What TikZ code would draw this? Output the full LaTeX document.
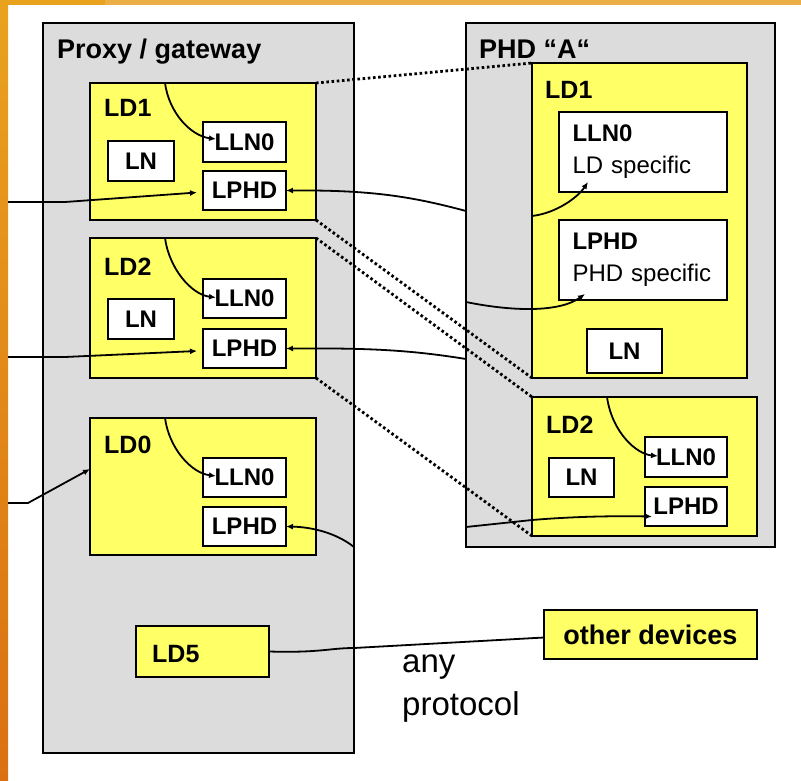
\documentclass[tikz,border=0pt]{standalone}
\usepackage{fontspec}
\setmainfont{Liberation Sans}
\usetikzlibrary{arrows.meta,calc}
\definecolor{gbox}{RGB}{220,220,220}
\definecolor{ybox}{RGB}{255,255,102}
\definecolor{orA}{RGB}{233,162,30}
\definecolor{orB}{RGB}{218,112,18}
\definecolor{orT}{RGB}{235,175,70}
\begin{document}
\begin{tikzpicture}[x=1pt,y=-1pt,
  graybox/.style={draw=black, fill=gbox, line width=1.8pt, inner sep=0pt, outer sep=0pt, anchor=north west},
  ldbox/.style={draw=black, fill=ybox, line width=1.8pt, inner sep=0pt, outer sep=0pt, anchor=north west},
  lnbox/.style={draw=black, fill=white, line width=1.8pt, inner sep=0pt, outer sep=0pt, anchor=north west, font=\fontsize{24}{32}\selectfont\bfseries},
  wire/.style={line width=1.8pt, draw=black},
  arr/.style={wire, -{Latex[length=7pt,width=6pt]}},
  dots/.style={line width=2.8pt, dash pattern=on 2.6pt off 2.6pt},
  title/.style={anchor=base west, inner sep=0pt, font=\fontsize{27}{32}\selectfont\bfseries},
  ldlabel/.style={anchor=base west, inner sep=0pt, font=\fontsize{25}{30}\selectfont\bfseries},
  plain/.style={anchor=base west, inner sep=0pt, font=\fontsize{33}{43}\selectfont},
]
\useasboundingbox (0,0) rectangle (801,781);
\fill[white] (0,0) rectangle (801,781);
% orange frame
\fill[orT] (0,0) rectangle (801,5);
\fill[orA] (0,0) rectangle (105,5);
\fill[top color=orA, bottom color=orB] (0,0) rectangle (8,781);

% containers
\node[graybox, minimum width=311pt, minimum height=730pt] (proxy) at (43,23) {};
\node[graybox, minimum width=309pt, minimum height=524pt] (phd) at (466,23) {};
\node[title] (proxyt) at (57,59) {Proxy / gateway};
\node[title] (phdt) at (479,59) {PHD “A“};

% proxy LD1
\node[ldbox, minimum width=226pt, minimum height=137pt] (pLD1) at (90,83) {};
\node[ldlabel] (pLD1t) at (104,117) {LD1};
\node[lnbox, minimum width=66pt, minimum height=40pt] (p1ln) at (108,141) {LN};
\node[lnbox, minimum width=83pt, minimum height=40pt] (p1lln0) at (203,122) {LLN0};
\node[lnbox, minimum width=83pt, minimum height=39pt] (p1lphd) at (203,171) {LPHD};

% proxy LD2
\node[ldbox, minimum width=226pt, minimum height=140pt] (pLD2) at (90,238) {};
\node[ldlabel] (pLD2t) at (104,275) {LD2};
\node[lnbox, minimum width=66pt, minimum height=40pt] (p2ln) at (108,299) {LN};
\node[lnbox, minimum width=83pt, minimum height=39pt] (p2lln0) at (203,279) {LLN0};
\node[lnbox, minimum width=83pt, minimum height=39pt] (p2lphd) at (203,329) {LPHD};

% proxy LD0
\node[ldbox, minimum width=226pt, minimum height=137pt] (pLD0) at (90,418) {};
\node[ldlabel] (pLD0t) at (104,453) {LD0};
\node[lnbox, minimum width=83pt, minimum height=39pt] (p0lln0) at (203,458) {LLN0};
\node[lnbox, minimum width=83pt, minimum height=39pt] (p0lphd) at (203,507) {LPHD};

% LD5
\node[ldbox, minimum width=133pt, minimum height=51pt] (LD5) at (136,626) {};
\node[ldlabel] (LD5t) at (152,662) {LD5};

% other devices
\node[ldbox, minimum width=213pt, minimum height=49pt, anchor=north west, font=\fontsize{27}{32}\selectfont\bfseries] (other) at (544,610) {other devices};

% PHD LD1
\node[ldbox, minimum width=215pt, minimum height=315pt] (aLD1) at (532,63) {};
\node[ldlabel] (aLD1t) at (545,99) {LD1};
\node[lnbox, minimum width=168pt, minimum height=80pt, text width=141pt, inner xsep=13.5pt, align=left] (a1lln0) at (559,112) {LLN0\\{\mdseries LD specific}};
\node[lnbox, minimum width=168pt, minimum height=80pt, text width=141pt, inner xsep=13.5pt, align=left] (a1lphd) at (559,220) {LPHD\\{\mdseries PHD specific}};
\node[lnbox, minimum width=75pt, minimum height=44pt] (a1ln) at (587,329) {LN};

% PHD LD2
\node[ldbox, minimum width=225pt, minimum height=139pt] (aLD2) at (532,397) {};
\node[ldlabel] (aLD2t) at (546,433) {LD2};
\node[lnbox, minimum width=65pt, minimum height=39pt] (a2ln) at (549,458) {LN};
\node[lnbox, minimum width=82pt, minimum height=40pt] (a2lln0) at (645,437) {LLN0};
\node[lnbox, minimum width=82pt, minimum height=39pt] (a2lphd) at (645,487) {LPHD};

% any protocol
\node[plain] (any) at (402,672) {any};
\node[plain] (proto) at (402,715) {protocol};

% free ends
\coordinate (inL1) at (8,202);
\coordinate (inL2) at (8,357);
\coordinate (inL0) at (8,503);
\coordinate (phdA) at (466,211);
\coordinate (phdB) at (466,302);
\coordinate (phdC) at (466,359);
\coordinate (phdD) at (466,527);
\coordinate (pxE) at (354,547);

% dotted correspondences
\draw[dots] (pLD1.north east) -- (aLD1.north west);
\draw[dots] (pLD1.south east) -- (aLD1.south west);
\draw[dots] (pLD2.north east) -- (aLD2.north west);
\draw[dots] (pLD2.south east) -- (aLD2.south west);

% proxy LD1 connectors
\draw[arr] ($(pLD1.north west)+(75,0)$) .. controls +(4,30) and +(-25,-3) .. ($(p1lln0.west)+(13,-3)$);
\draw[arr] (inL1) -- (65,202) -- ($(p1lphd.west)+(-6,2)$);
\draw[arr] (phdA) .. controls (410,196) and (370,190) .. (p1lphd.east);

% proxy LD2 connectors
\draw[arr] ($(pLD2.north west)+(75,0)$) .. controls +(4,30) and +(-25,-3) .. ($(p2lln0.west)+(13,-1)$);
\draw[arr] (inL2) -- (65,357) -- ($(p2lphd.west)+(-6,2.5)$);
\draw[arr] (phdC) .. controls (410,350) and (370,348) .. (p2lphd.east);

% proxy LD0 connectors
\draw[arr] ($(pLD0.north west)+(75,0)$) .. controls +(4,30) and +(-25,-3) .. ($(p0lln0.west)+(13,-1.5)$);
\draw[arr] (inL0) -- (28,503) -- ($(pLD0.west)+(0,-17.5)$);
\draw[arr] (pxE) .. controls (335,532) and (310,527) .. (p0lphd.east);

% PHD LD1 connectors
\draw[arr] ($(aLD1.north west)+(0,153)$) .. controls +(25,-3) and +(-10,15) .. ($(a1lln0.south west)+(29,-10)$);
\draw[arr] (phdB) .. controls (515,312) and (560,312) .. ($(a1lphd.south west)+(26,-6)$);

% PHD LD2 connectors
\draw[arr] ($(aLD2.north west)+(75,0)$) .. controls +(5,35) and +(-22,-2) .. ($(a2lln0.west)+(13,-1)$);
\draw[arr] (phdD) -- (532,520) .. controls (580,516) and (620,516) .. ($(a2lphd.west)+(7,10)$);

% any protocol link
\draw[wire] (LD5.east) .. controls (320,653) and (330,648) .. (354,648) -- ($(other.west)+(0,3)$);
\end{tikzpicture}
\end{document}
